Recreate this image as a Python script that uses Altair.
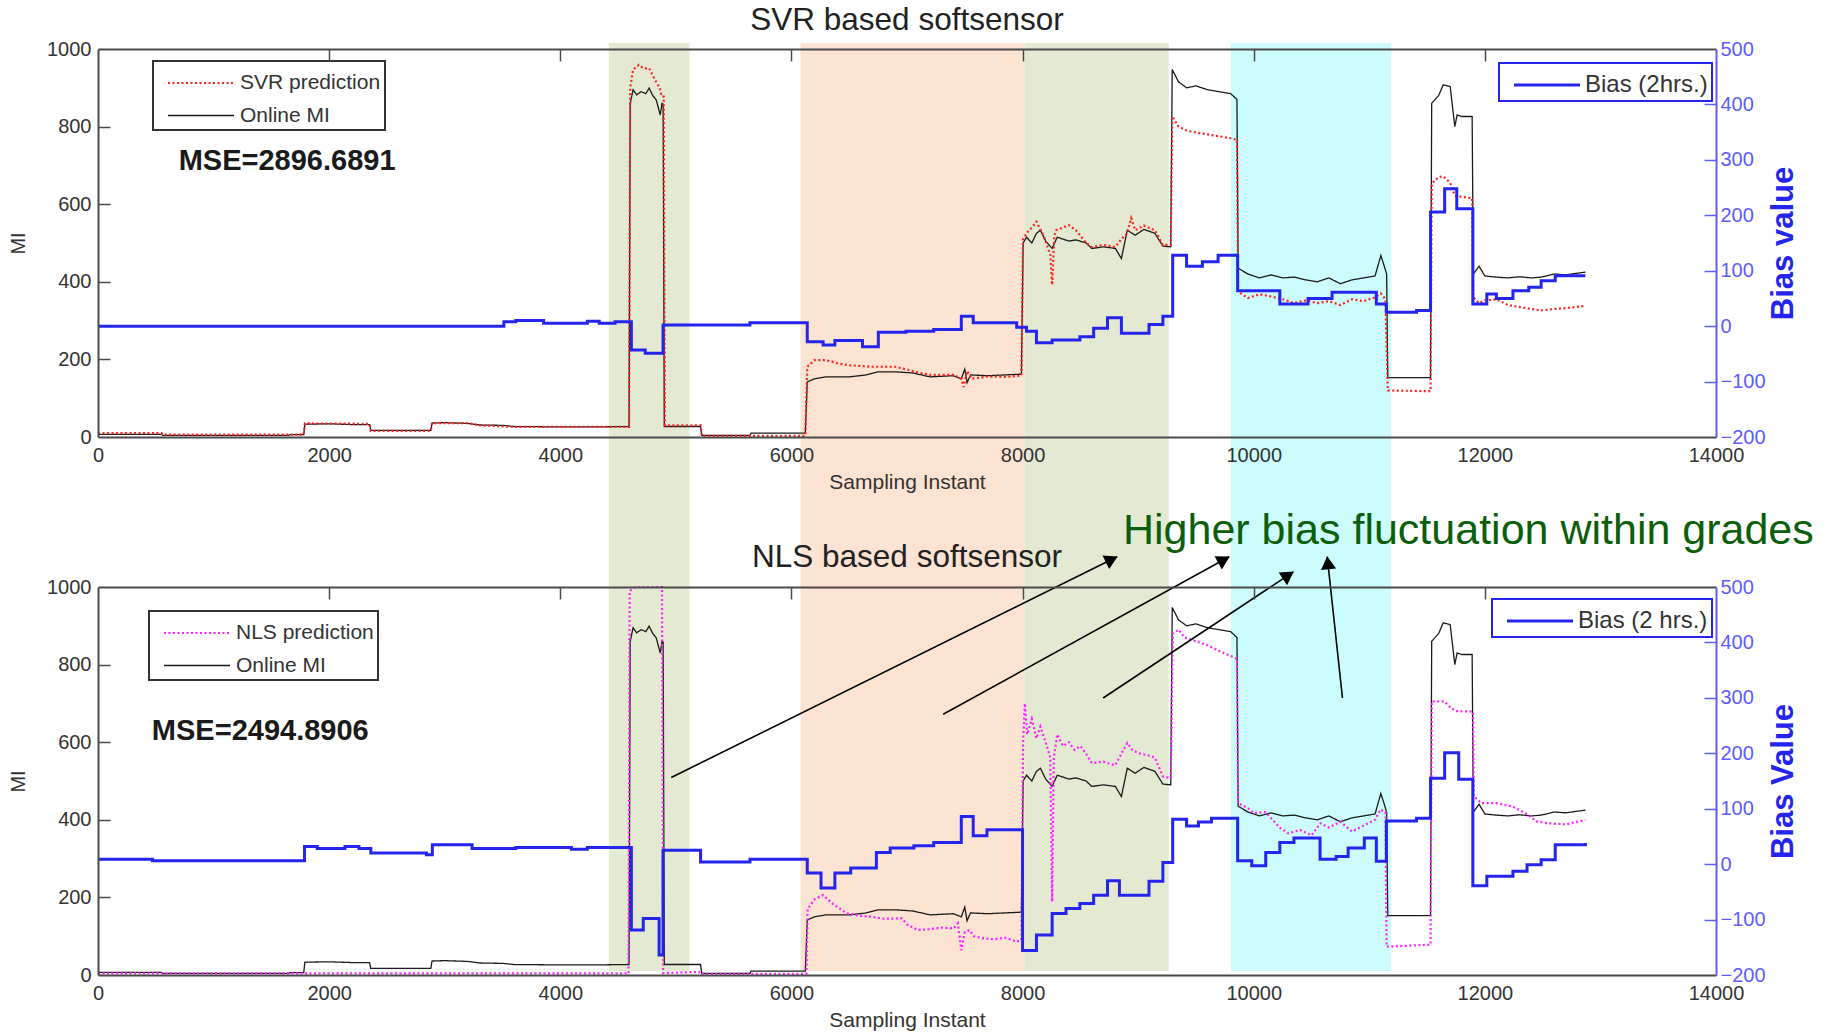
import math
import altair as alt
import pandas as pd

# ---------------- data ----------------
x_ticks = [0, 2000, 4000, 6000, 8000, 10000, 12000, 14000]
mi_ticks = [0, 200, 400, 600, 800, 1000]
bias_ticks = [-200, -100, 0, 100, 200, 300, 400, 500]

region_start = [4420, 6079, 8017, 9802]
region_end = [5118, 8017, 9265, 11190]
region_kind = ["grade", "transition", "grade", "cyan"]

# Online MI (same in both panels): (sampling instant, MI)
online_mi = [(0,7),(550,7),(560,4),(1650,4),(1660,6),(1780,6),(1790,33),(2000,34),(2200,32),(2350,32),
    (2360,17),(2880,17),(2890,36),(3000,37),(3200,35),(3300,31),(3500,30),(3600,27),(4000,26),(4300,26),
    (4595,27),(4605,860),(4630,895),(4660,882),(4700,890),(4740,885),(4769,899),(4800,880),(4830,869),(4865,830),
    (4880,860),(4890,858),(4900,27),(5214,27),(5224,4),(5641,4),(5651,10),(6120,10),(6137,142),(6200,150),
    (6300,155),(6500,155),(6650,160),(6750,168),(6900,168),(7050,165),(7200,155),(7400,158),(7470,150),(7500,175),
    (7520,140),(7550,160),(7700,158),(7850,160),(7990,162),(8005,500),(8034,515),(8080,500),(8120,525),(8154,533),
    (8200,505),(8256,486),(8300,515),(8400,505),(8462,508),(8550,500),(8598,486),(8700,490),(8803,486),(8855,460),
    (8906,533),(8974,520),(9050,535),(9145,525),(9214,492),(9282,490),(9295,947),(9350,915),(9420,900),(9500,905),
    (9600,895),(9700,890),(9800,885),(9855,870),(9865,435),(9950,420),(10050,410),(10150,418),(10250,410),(10350,412),
    (10450,405),(10550,400),(10650,410),(10750,395),(10850,405),(10950,410),(11050,415),(11100,468),(11130,440),(11150,420),
    (11160,153),(11530,153),(11540,860),(11600,880),(11640,908),(11700,903),(11740,800),(11760,830),(11800,826),(11890,826),
    (11900,420),(11950,440),(12000,415),(12100,412),(12200,410),(12300,413),(12400,410),(12487,412),(12600,420),(12700,418),
    (12870,425)]

svr_pred = [(0,10),(550,10),(560,6),(1650,6),(1780,6),(1790,35),(2350,34),(2360,16),(2880,16),(2890,36),
    (3200,36),(3300,30),(3600,26),(4595,26),(4605,900),(4630,947),(4680,959),(4720,950),(4769,950),(4820,920),
    (4860,900),(4880,877),(4895,877),(4905,30),(5214,30),(5224,3),(6120,3),(6137,181),(6200,198),(6300,198),
    (6400,190),(6500,185),(6700,181),(6900,181),(7050,170),(7200,160),(7400,160),(7470,150),(7490,129),(7520,170),
    (7560,150),(7700,156),(7850,155),(7990,158),(8005,510),(8034,525),(8080,540),(8120,555),(8180,520),(8240,470),
    (8256,392),(8275,520),(8291,533),(8350,540),(8400,546),(8462,533),(8550,500),(8598,490),(8700,495),(8803,490),
    (8855,510),(8906,525),(8940,564),(8974,533),(9050,545),(9145,533),(9214,495),(9282,495),(9295,826),(9350,800),
    (9420,790),(9500,785),(9600,780),(9700,775),(9800,770),(9855,766),(9865,375),(9950,358),(10050,368),(10150,362),
    (10250,355),(10350,345),(10450,352),(10550,345),(10650,350),(10750,340),(10850,355),(10950,350),(11050,360),(11100,370),
    (11140,355),(11160,120),(11530,118),(11540,653),(11600,670),(11640,672),(11700,655),(11740,622),(11800,619),(11890,615),
    (11900,360),(11950,345),(12000,352),(12100,355),(12200,340),(12300,335),(12400,330),(12487,326),(12600,330),(12700,332),
    (12870,338)]

nls_pred = [(0,4),(4590,4),(4600,990),(4650,1000),(4880,1000),(4890,5),(5200,8),(5210,3),(6100,3),(6130,4),
    (6140,170),(6200,195),(6274,206),(6350,185),(6479,159),(6600,152),(6700,150),(6800,145),(6957,146),(7000,130),
    (7094,116),(7200,118),(7300,122),(7402,120),(7440,133),(7470,64),(7500,110),(7540,116),(7580,100),(7650,95),
    (7750,92),(7850,96),(7950,86),(7990,90),(8005,600),(8020,700),(8040,620),(8080,660),(8120,610),(8154,640),
    (8200,600),(8240,560),(8256,189),(8270,560),(8300,620),(8350,590),(8400,600),(8450,580),(8500,590),(8550,570),
    (8600,546),(8700,550),(8800,540),(8906,598),(8950,580),(9000,572),(9100,565),(9145,560),(9214,512),(9282,507),
    (9300,880),(9350,890),(9400,870),(9500,860),(9600,850),(9700,835),(9780,825),(9855,815),(9865,443),(9950,430),
    (10000,417),(10100,420),(10226,380),(10300,365),(10400,374),(10500,360),(10578,391),(10650,380),(10750,395),(10850,370),
    (10950,385),(11050,400),(11096,426),(11140,420),(11150,73),(11530,78),(11540,705),(11650,705),(11700,690),(11750,680),
    (11896,679),(11905,460),(11970,443),(12100,443),(12243,434),(12350,417),(12450,396),(12550,391),(12700,388),(12870,400)]

# Bias (2 hrs.) step values: (start instant, bias)
bias_svr = [(0,0),(3512,8),(3615,10),(3856,5),(4234,9),(4337,5),(4474,8),(4615,-43),(4735,-49),(4889,2),
    (5641,6),(6137,-28),(6274,-34),(6376,-26),(6615,-37),(6752,-11),(6991,-9),(7231,-6),(7470,18),(7573,6),
    (7949,-2),(8034,-9),(8120,-30),(8256,-25),(8496,-19),(8615,-4),(8735,15),(8855,-13),(9094,3),(9214,18),
    (9299,128),(9419,108),(9556,116),(9692,128),(9861,64),(10226,40),(10470,50),(10678,61),(11061,40),(11148,25),
    (11409,28),(11530,206),(11652,248),(11757,212),(11896,40),(12017,58),(12100,50),(12243,64),(12380,70),(12487,82),
    (12609,91),(12870,91)]

bias_nls = [(0,9),(471,6),(1787,32),(1897,28),(2137,32),(2258,28),(2361,20),(2842,17),(2893,35),(3237,28),
    (3615,30),(4096,27),(4234,30),(4615,-119),(4718,-98),(4855,-164),(4889,25),(5214,4),(5641,9),(6137,-16),
    (6256,-43),(6376,-16),(6513,-7),(6735,21),(6855,29),(7060,33),(7231,39),(7470,86),(7573,51),(7692,62),
    (8000,-156),(8120,-128),(8256,-89),(8376,-80),(8496,-71),(8615,-56),(8735,-30),(8838,-56),(9094,-31),(9214,3),
    (9299,81),(9419,69),(9522,76),(9635,83),(9861,6),(9983,-3),(10104,21),(10226,39),(10348,47),(10574,9),
    (10713,14),(10817,29),(10957,47),(11061,5),(11148,78),(11409,83),(11530,155),(11652,201),(11774,153),(11896,-39),
    (12017,-22),(12243,-13),(12365,-1),(12487,8),(12609,35),(12870,38)]

# annotation arrows (bottom panel, in instant / MI units)
arrow_start_x = [4960, 7313, 8697, 10768]
arrow_start_mi = [509, 672, 714, 714]
arrow_end_x = [8818, 9788, 10343, 10636]
arrow_end_mi = [1078, 1078, 1039, 1078]

note_text = "Higher bias fluctuation within grades"
note_x, note_mi = 8869, 1111

mse_top = ("MSE=2896.6891", 698, 687)
mse_bottom = ("MSE=2494.8906", 466, 606)

# ---------------- styling / layout ----------------
W, H = 1618, 388
GAP = 150
FONT = "Liberation Sans"
AXC = "#4a4a4a"
LBL = "#333333"
BLUE = "#2424ee"
BLUE_AX = "#5c5cff"
LEG_LINE = "M-2,0H2"   # long horizontal legend stroke

xs = alt.Scale(domain=[0, 14000], nice=False, zero=False)
ms = alt.Scale(domain=[0, 1000], nice=False, zero=False)
bs = alt.Scale(domain=[-200, 500], nice=False, zero=False)


def x_label_axis():
    return alt.Axis(values=x_ticks, format="d", ticks=False, domain=True, domainColor=AXC, domainWidth=2,
                    labelFont=FONT, labelFontSize=20, labelColor=LBL, labelPadding=8,
                    labelFlush=False, labelOverlap=False, grid=False,
                    title="Sampling Instant", titleFont=FONT, titleFontSize=21,
                    titleFontWeight="normal", titleColor=LBL, titlePadding=6, zindex=1)


def x_tick_axis():
    return alt.Axis(values=x_ticks[1:-1], labels=False, domain=False, ticks=True, tickSize=12,
                    tickColor=AXC, tickWidth=1.5, offset=-12, grid=False, title=None, zindex=1)


def x_top_axis():
    return alt.Axis(orient="top", values=x_ticks, labels=False, ticks=False, domain=True,
                    domainColor=AXC, domainWidth=2, grid=False, title=None, zindex=1)


def mi_label_axis():
    return alt.Axis(values=mi_ticks, format="d", ticks=False, domain=True, domainColor=AXC, domainWidth=2,
                    labelFont=FONT, labelFontSize=20, labelColor=LBL, labelPadding=7,
                    labelOverlap=False, grid=False, title="MI", titleFont=FONT,
                    titleFontSize=20, titleFontWeight="normal", titleColor=LBL,
                    titlePadding=18, zindex=1)


def mi_tick_axis():
    return alt.Axis(values=mi_ticks[1:-1], labels=False, domain=False, tickSize=12,
                    tickColor=AXC, tickWidth=1.5, offset=-12, grid=False, title=None, zindex=1)


def bias_label_axis(title):
    return alt.Axis(orient="right", values=bias_ticks, format="d", ticks=False, domain=True,
                    domainColor=BLUE_AX, domainWidth=2, labelFont=FONT, labelFontSize=20,
                    labelColor=BLUE_AX, labelPadding=4, labelOverlap=False, grid=False,
                    title=title, titleFont=FONT, titleFontSize=31, titleFontWeight="bold",
                    titleColor=BLUE, titleAngle=270, titlePadding=34, zindex=1)


def bias_tick_axis():
    return alt.Axis(orient="right", values=bias_ticks[1:-1], labels=False, domain=False,
                    tickSize=12, tickColor=BLUE_AX, tickWidth=1.5, offset=-12, grid=False,
                    title=None, zindex=1)


def pairs_df(pairs, series):
    return pd.DataFrame({"x": [p[0] for p in pairs], "y": [p[1] for p in pairs], "series": series})


regions_df = pd.DataFrame({"start": region_start, "end": region_end, "kind": region_kind})


def panel(pred_pairs, pred_name, pred_color, bias_pairs, bias_name, bias_title, mse,
          leg_xy, bleg_xy, title, title_offset, shade_y0, shade_y1, with_notes=False):
    lines_df = pd.concat([pairs_df(online_mi, "Online MI"), pairs_df(pred_pairs, pred_name)],
                         ignore_index=True)
    bias_df = pd.DataFrame({"x": [p[0] for p in bias_pairs], "bias": [p[1] for p in bias_pairs],
                            "name": bias_name})
    mse_df = pd.DataFrame({"label": [mse[0]], "x": [mse[1]], "y": [mse[2]]})

    shade = alt.Chart(regions_df).mark_rect().encode(
        x=alt.X("start:Q", scale=xs, axis=x_label_axis()),
        x2="end:Q",
        y=alt.value(shade_y0),
        y2=alt.value(shade_y1),
        fill=alt.Fill("kind:N", scale=alt.Scale(domain=["grade", "transition", "cyan"],
                                                range=["#e4ead2", "#fde3d2", "#ccfcfc"]),
                      legend=None),
    )

    leg = alt.Legend(title=None, orient="none", legendX=leg_xy[0], legendY=leg_xy[1], padding=4,
                     fillColor="white", strokeColor="#333333", symbolType=LEG_LINE,
                     symbolSize=1089, symbolStrokeWidth=1.8, symbolOffset=26,
                     labelFont=FONT, labelFontSize=21, labelColor=LBL, labelOffset=21,
                     rowPadding=5)
    dom = [pred_name, "Online MI"]
    lines = alt.Chart(lines_df).mark_line().encode(
        x=alt.X("x:Q", scale=xs, axis=x_tick_axis()),
        y=alt.Y("y:Q", scale=ms, axis=mi_label_axis()),
        color=alt.Color("series:N", scale=alt.Scale(domain=dom, range=[pred_color, "#1a1a1a"]),
                        legend=leg),
        strokeDash=alt.StrokeDash("series:N", scale=alt.Scale(domain=dom, range=[[2, 2.5], [1, 0]]),
                                  legend=leg),
        strokeWidth=alt.StrokeWidth("series:N", scale=alt.Scale(domain=dom, range=[2.2, 1.3]),
                                    legend=None),
    )

    bleg = alt.Legend(title=None, orient="none", legendX=bleg_xy[0], legendY=bleg_xy[1], padding=4,
                      fillColor="white", strokeColor=BLUE, symbolType=LEG_LINE, symbolSize=1089,
                      symbolStrokeWidth=3, symbolOffset=26, labelFont=FONT, labelFontSize=24,
                      labelColor=LBL, labelOffset=20)
    bias = alt.Chart(bias_df).mark_line(interpolate="step-after", strokeWidth=3).encode(
        x=alt.X("x:Q", scale=xs, axis=None),
        y=alt.Y("bias:Q", scale=bs, axis=bias_label_axis(bias_title)),
        color=alt.Color("name:N", scale=alt.Scale(domain=[bias_name], range=[BLUE]), legend=bleg),
    )
    bias_ghost = alt.Chart(bias_df).mark_line(interpolate="step-after", strokeOpacity=0).encode(
        x=alt.X("x:Q", scale=xs, axis=None),
        y=alt.Y("bias:Q", scale=bs, axis=bias_tick_axis()),
    )
    mse_t = alt.Chart(mse_df).mark_text(align="left", baseline="alphabetic", font=FONT, fontSize=29,
                                        fontWeight="bold", color="#1a1a1a").encode(
        x=alt.X("x:Q", scale=xs, axis=x_top_axis()),
        y=alt.Y("y:Q", scale=ms, axis=mi_tick_axis()),
        text="label:N",
    )
    layers = [shade, lines, bias, mse_t, bias_ghost]

    if with_notes:
        px_x = W / 14000.0
        px_y = H / 1000.0
        hx, hy, ha = [], [], []
        for sx, sy, ex, ey in zip(arrow_start_x, arrow_start_mi, arrow_end_x, arrow_end_mi):
            dx = (ex - sx) * px_x
            dy = (ey - sy) * px_y
            L = math.hypot(dx, dy)
            hx.append(ex - dx / L * 6 / px_x)
            hy.append(ey - dy / L * 6 / px_y)
            ha.append(math.degrees(math.atan2(dx, dy)) % 360)
        arrows_df = pd.DataFrame({"x1": arrow_start_x, "y1": arrow_start_mi,
                                  "x2": arrow_end_x, "y2": arrow_end_mi})
        heads_df = pd.DataFrame({"x": hx, "y": hy, "angle": ha})
        rules = alt.Chart(arrows_df).mark_rule(color="black", strokeWidth=1.6).encode(
            x=alt.X("x1:Q", scale=xs, axis=None), x2="x2:Q",
            y=alt.Y("y1:Q", scale=ms, axis=None), y2="y2:Q")
        heads = alt.Chart(heads_df).mark_point(shape="triangle-up", filled=True, color="black",
                                               size=230, opacity=1).encode(
            x=alt.X("x:Q", scale=xs, axis=None),
            y=alt.Y("y:Q", scale=ms, axis=None),
            angle=alt.Angle("angle:Q", scale=None))
        note_df = pd.DataFrame({"t": [note_text], "x": [note_x], "y": [note_mi]})
        note = alt.Chart(note_df).mark_text(align="left", baseline="alphabetic", font=FONT,
                                            fontSize=43, color="#0b5e0b").encode(
            x=alt.X("x:Q", scale=xs, axis=None),
            y=alt.Y("y:Q", scale=ms, axis=None),
            text="t:N")
        layers += [rules, heads, note]

    return alt.layer(*layers).resolve_scale(
        y="independent", color="independent", strokeDash="independent", strokeWidth="independent"
    ).resolve_axis(x="independent", y="independent").properties(
        width=W, height=H,
        title=alt.Title(title, font=FONT, fontSize=31.5, fontWeight="normal", color="#222222",
                        offset=title_offset, frame="group", baseline="bottom"),
    )


top = panel(svr_pred, "SVR prediction", "#ff2020", bias_svr, "Bias (2hrs.)", "Bias value",
            mse_top, (55, 12), (1401, 14), "SVR based softsensor", -29, -6, H + GAP)
bottom = panel(nls_pred, "NLS prediction", "#ff20ff", bias_nls, "Bias (2 hrs.)", "Bias Value",
               mse_bottom, (51, 24), (1394, 12), "NLS based softsensor", -96, 0, H - 4,
               with_notes=True)

chart = alt.vconcat(top, bottom, spacing=GAP, bounds="flush").properties(
    padding={"left": 8, "top": 4, "right": 5, "bottom": 2}
).configure_view(stroke=None).configure_legend(strokeWidth=2)

chart.save("out.html", embed_options={"renderer": "svg", "actions": False})
